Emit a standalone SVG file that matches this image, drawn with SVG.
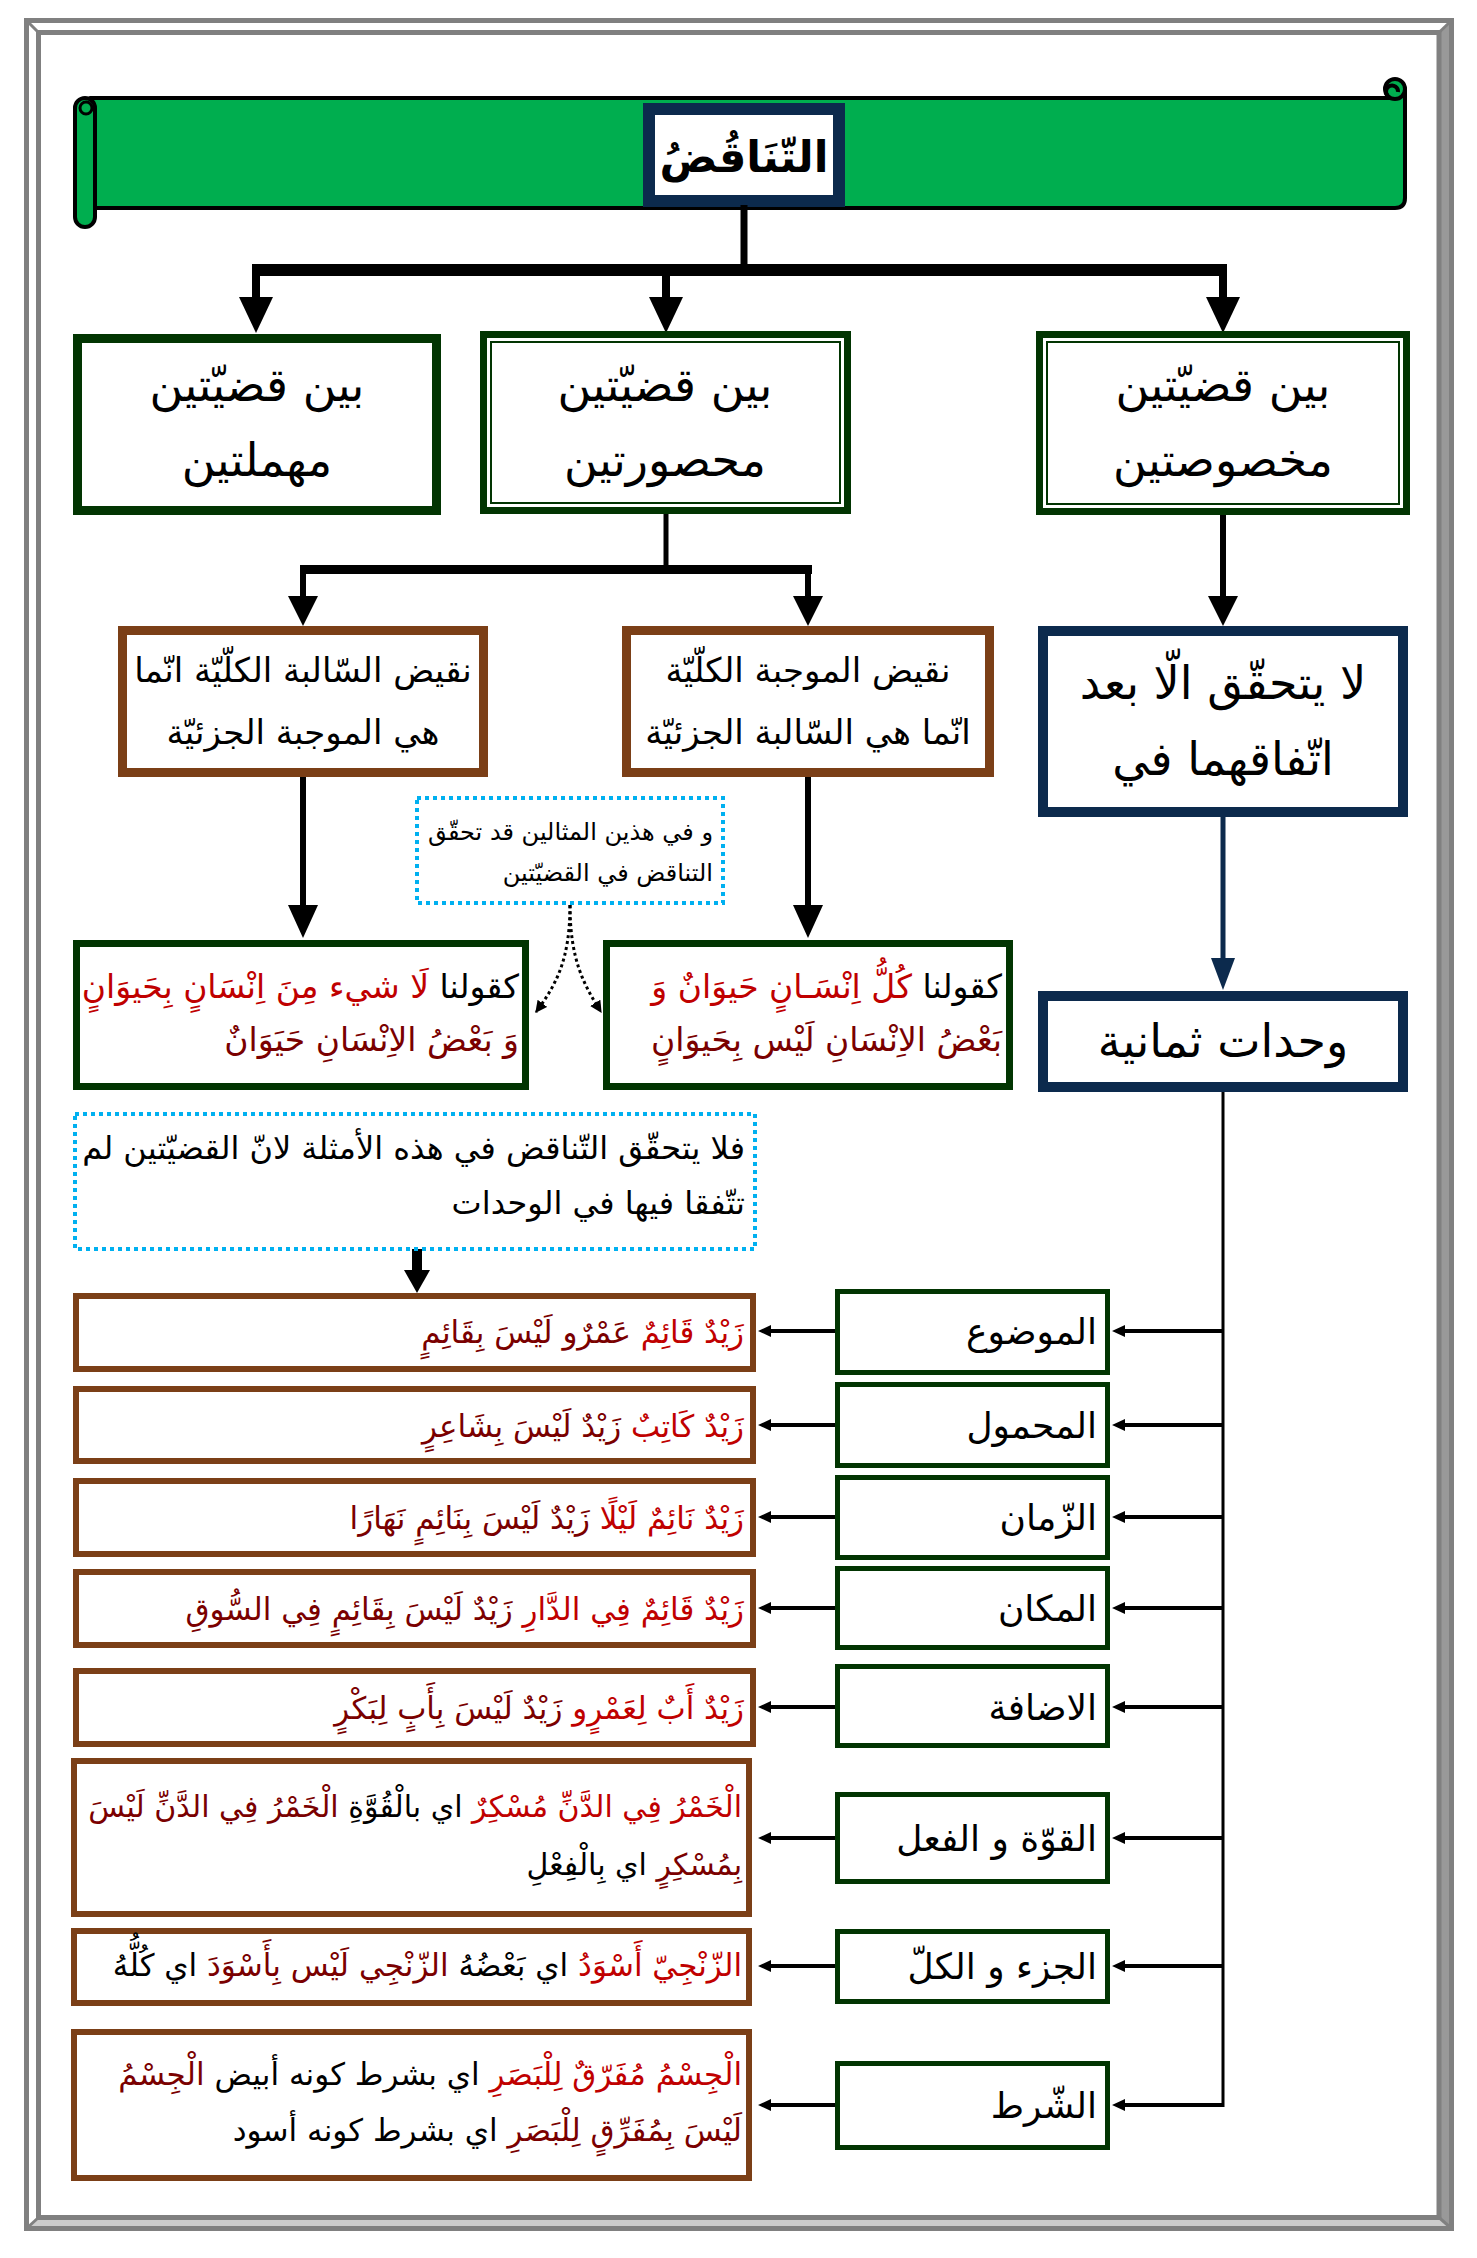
<svg xmlns="http://www.w3.org/2000/svg" width="1477" height="2258" viewBox="0 0 1477 2258">
<style>
text{font-family:"DejaVu Sans","Noto Sans",sans-serif;direction:rtl;}
.c{text-anchor:middle;}
.s{text-anchor:start;}
.t40{font-size:46px;}
.t44{font-size:46px;}
.t32{font-size:34px;}
.t30{font-size:33px;}
.tn{font-size:32px;}
.tr{font-size:31px;}
.tr6{font-size:30px;}
.t23{font-size:24px;}
.lbl{font-size:36px;}
.red{fill:#C00000;}
.mar{fill:#7A0000;}
.blk{fill:#000;}
.bxg{fill:#fff;stroke:#023502;}
.bxb{fill:#fff;stroke:#7B3F17;}
.bxn{fill:#fff;stroke:#0C2A4D;}
.dot{fill:#fff;stroke:#00B0F0;stroke-width:4;stroke-dasharray:4 4;}
.ln{stroke:#000;fill:none;}
.ah{fill:#000;}
</style>
<defs>
<marker id="da" viewBox="0 0 10 10" refX="9" refY="5" markerWidth="12" markerHeight="12" markerUnits="userSpaceOnUse" orient="auto"><path d="M0,0 L10,5 L0,10 Z" fill="#000"/></marker>
</defs>

<g id="frame">
<polygon points="1451.5,20.5 1439,32.5 1439,2217.5 1451.5,2228.5" fill="#999"/>
<polygon points="26.5,2228.5 38.5,2217.5 1439,2217.5 1451.5,2228.5" fill="#ccc"/>
<rect x="26.5" y="20.5" width="1425" height="2208" fill="none" stroke="#808080" stroke-width="5"/>
<rect x="38.5" y="32.5" width="1400.5" height="2185" fill="none" stroke="#808080" stroke-width="5"/>
<g stroke="#808080" stroke-width="3">
<line x1="26.5" y1="20.5" x2="38.5" y2="32.5"/>
<line x1="1451.5" y1="20.5" x2="1439" y2="32.5"/>
<line x1="26.5" y1="2228.5" x2="38.5" y2="2217.5"/>
<line x1="1451.5" y1="2228.5" x2="1439" y2="2217.5"/>
</g>
</g>

<g id="banner">
<path d="M90,98 H1395 V89 H1405 V198 Q1405,208 1395,208 H90 Z" fill="#00AE4F" stroke="#000" stroke-width="4" stroke-linejoin="round"/>
<circle cx="1395" cy="89" r="10" fill="#00AE4F" stroke="#000" stroke-width="4"/>
<path d="M1388,96 A6,6 0 1 1 1398,92" fill="none" stroke="#000" stroke-width="4"/>
<rect x="75" y="98" width="20" height="129" rx="10" fill="#00AE4F" stroke="#000" stroke-width="4"/>
<circle cx="86" cy="108" r="6" fill="none" stroke="#000" stroke-width="3"/>
</g>

<g id="title">
<rect x="649" y="109" width="190" height="92" fill="#fff" stroke="#0C2A4D" stroke-width="12"/>
<text x="744" y="172" class="c" font-size="43" font-weight="bold">التّنَاقُضُ</text>
</g>

<g id="connectors">
<line class="ln" x1="744" y1="205" x2="744" y2="270" stroke-width="7"/>
<line class="ln" x1="252" y1="270" x2="1227" y2="270" stroke-width="12"/>
<path class="ln" d="M256,270 V300 M666,270 V300 M1223,270 V300" stroke-width="8"/>
<polygon class="ah" points="239,297 273,297 256,333"/>
<polygon class="ah" points="649,297 683,297 666,333"/>
<polygon class="ah" points="1206,297 1240,297 1223,333"/>

<line class="ln" x1="666" y1="514" x2="666" y2="570" stroke-width="5"/>
<line class="ln" x1="300" y1="569.5" x2="812" y2="569.5" stroke-width="9"/>
<path class="ln" d="M303,569 V600 M808,569 V600" stroke-width="6"/>
<polygon class="ah" points="288,596 318,596 303,626"/>
<polygon class="ah" points="793,596 823,596 808,626"/>
<path class="ln" d="M1223,515 V600" stroke-width="6"/>
<polygon class="ah" points="1208,596 1238,596 1223,626"/>

<path class="ln" d="M303,777 V908 M808,777 V908" stroke-width="6"/>
<polygon class="ah" points="288,905 318,905 303,938"/>
<polygon class="ah" points="793,905 823,905 808,938"/>
<path d="M1223,817 V962" stroke="#0C2A4D" stroke-width="5" fill="none"/>
<polygon points="1211,958 1235,958 1223,990" fill="#0C2A4D"/>

<path class="ln" d="M570,905 C570,960 556,985 536,1012" stroke-width="3" stroke-dasharray="3 3" marker-end="url(#da)"/>
<path class="ln" d="M570,905 C570,960 584,985 601,1012" stroke-width="3" stroke-dasharray="3 3" marker-end="url(#da)"/>

<path class="ln" d="M417,1249 V1274" stroke-width="10"/>
<polygon class="ah" points="404,1270 430,1270 417,1293"/>

<path class="ln" d="M1223,1092 V2107" stroke-width="3"/>
<g id="branches">
<path class="ln" stroke-width="4" d="M1223,1331 H1122 M835,1331 H768 M1223,1425 H1122 M835,1425 H768 M1223,1517 H1122 M835,1517 H768 M1223,1608 H1122 M835,1608 H768 M1223,1707 H1122 M835,1707 H768 M1223,1838 H1122 M835,1838 H768 M1223,1966 H1122 M835,1966 H768 M1223,2105 H1122 M835,2105 H768"/>
<path class="ah" d="M1112,1331 l13,-6 v12 z M758,1331 l13,-6 v12 z M1112,1425 l13,-6 v12 z M758,1425 l13,-6 v12 z M1112,1517 l13,-6 v12 z M758,1517 l13,-6 v12 z M1112,1608 l13,-6 v12 z M758,1608 l13,-6 v12 z M1112,1707 l13,-6 v12 z M758,1707 l13,-6 v12 z M1112,1838 l13,-6 v12 z M758,1838 l13,-6 v12 z M1112,1966 l13,-6 v12 z M758,1966 l13,-6 v12 z M1112,2105 l13,-6 v12 z M758,2105 l13,-6 v12 z"/>
</g>
</g>

<g id="n-muhmalatain">
<rect class="bxg" x="77.5" y="338.5" width="359" height="172" stroke-width="9"/>
<text x="257" y="401" class="c t40">بين قضيّتين</text>
<text x="257" y="476" class="c t40">مهملتين</text>
</g>
<g id="n-mahsuratain">
<rect class="bxg" x="483.5" y="334.5" width="364" height="176" stroke-width="7"/>
<rect class="bxg" x="491" y="342" width="349" height="161" stroke-width="2"/>
<text x="665" y="401" class="c t40">بين قضيّتين</text>
<text x="665" y="476" class="c t40">محصورتين</text>
</g>
<g id="n-makhsusatain">
<rect class="bxg" x="1039.5" y="334.5" width="367" height="177" stroke-width="7"/>
<rect class="bxg" x="1047" y="342" width="352" height="162" stroke-width="2"/>
<text x="1223" y="401" class="c t40">بين قضيّتين</text>
<text x="1223" y="476" class="c t40">مخصوصتين</text>
</g>

<g id="n-naqid-salibah">
<rect class="bxb" x="122.5" y="630.5" width="361" height="142" stroke-width="9"/>
<text x="303" y="682" class="c t32">نقيض السّالبة الكلّيّة انّما</text>
<text x="303" y="744" class="c t32">هي الموجبة الجزئيّة</text>
</g>
<g id="n-naqid-mujibah">
<rect class="bxb" x="626.5" y="630.5" width="363" height="142" stroke-width="9"/>
<text x="808" y="682" class="c t32">نقيض الموجبة الكلّيّة</text>
<text x="808" y="744" class="c t32">انّما هي السّالبة الجزئيّة</text>
</g>
<g id="n-la-yatahaqqaq">
<rect class="bxn" x="1043" y="631" width="360" height="181" stroke-width="10"/>
<text x="1223" y="699" class="c t44">لا يتحقّق الّا بعد</text>
<text x="1223" y="775" class="c t44">اتّفاقهما في</text>
</g>

<g id="n-note1">
<rect class="dot" x="417" y="798" width="306" height="105"/>
<text x="713" y="840" class="s t23">و في هذين المثالين قد تحقّق</text>
<text x="713" y="881" class="s t23">التناقض في القضيّتين</text>
</g>

<g id="n-example-salibah">
<rect class="bxg" x="76.5" y="943.5" width="449" height="143" stroke-width="7"/>
<text x="519" y="998" class="s t30"><tspan class="blk">كقولنا </tspan><tspan class="red">لَا شيء مِنَ اِنْسَانٍ بِحَيوَانٍ</tspan></text>
<text x="519" y="1051" class="s t30 mar">وَ بَعْضُ الاِنْسَانِ حَيَوَانٌ</text>
</g>
<g id="n-example-mujibah">
<rect class="bxg" x="606.5" y="943.5" width="403" height="143" stroke-width="7"/>
<text x="1002" y="998" class="s t30"><tspan class="blk">كقولنا </tspan><tspan class="red">كُلُّ اِنْسَـانٍ حَيوَانٌ وَ</tspan></text>
<text x="1002" y="1051" class="s t30 mar">بَعْضُ  الاِنْسَانِ لَيْس بِحَيوَانٍ</text>
</g>

<g id="n-wahadat">
<rect class="bxn" x="1043" y="996" width="360" height="91" stroke-width="10"/>
<text x="1223" y="1057" class="c t44">وحدات ثمانية</text>
</g>

<g id="n-note2">
<rect class="dot" x="75" y="1114" width="680" height="135"/>
<text x="745" y="1159" class="s tn">فلا يتحقّق التّناقض في هذه الأمثلة لانّ القضيّتين لم</text>
<text x="745" y="1214" class="s tn">تتّفقا فيها في الوحدات</text>
</g>

<g id="row1">
<rect class="bxg" x="837.5" y="1291.5" width="270" height="81" stroke-width="5"/>
<text x="1097" y="1344" class="s lbl">الموضوع</text>
<rect class="bxb" x="76" y="1296" width="677" height="73" stroke-width="6"/>
<text x="744" y="1343" class="s tr"><tspan class="red">زَيْدٌ قَائِمٌ </tspan><tspan class="mar">عَمْرٌو لَيْسَ بِقَائِمٍ</tspan></text>
</g>
<g id="row2">
<rect class="bxg" x="837.5" y="1384.5" width="270" height="81" stroke-width="5"/>
<text x="1097" y="1438" class="s lbl">المحمول</text>
<rect class="bxb" x="76" y="1389" width="677" height="72" stroke-width="6"/>
<text x="744" y="1437" class="s tr"><tspan class="red">زَيْدٌ كَاتِبٌ </tspan><tspan class="mar">زَيْدٌ لَيْسَ بِشَاعِرٍ</tspan></text>
</g>
<g id="row3">
<rect class="bxg" x="837.5" y="1477.5" width="270" height="80" stroke-width="5"/>
<text x="1097" y="1530" class="s lbl">الزّمان</text>
<rect class="bxb" x="76" y="1481" width="677" height="73" stroke-width="6"/>
<text x="744" y="1529" class="s tr"><tspan class="red">زَيْدٌ نَائِمٌ لَيْلًا </tspan><tspan class="mar">زَيْدٌ لَيْسَ بِنَائِمٍ نَهَارًا</tspan></text>
</g>
<g id="row4">
<rect class="bxg" x="837.5" y="1568.5" width="270" height="79" stroke-width="5"/>
<text x="1097" y="1621" class="s lbl">المكان</text>
<rect class="bxb" x="76" y="1572" width="677" height="73" stroke-width="6"/>
<text x="744" y="1620" class="s tr"><tspan class="red">زَيْدٌ قَائِمٌ فِي الدَّارِ </tspan><tspan class="mar">زَيْدٌ لَيْسَ بِقَائِمٍ فِي السُّوقِ</tspan></text>
</g>
<g id="row5">
<rect class="bxg" x="837.5" y="1666.5" width="270" height="79" stroke-width="5"/>
<text x="1097" y="1720" class="s lbl">الاضافة</text>
<rect class="bxb" x="76" y="1671" width="677" height="73" stroke-width="6"/>
<text x="744" y="1719" class="s tr"><tspan class="red">زَيْدٌ أَبٌ لِعَمْرٍو </tspan><tspan class="mar">زَيْدٌ لَيْسَ بِأَبٍ لِبَكْرٍ</tspan></text>
</g>
<g id="row6">
<rect class="bxg" x="837.5" y="1794.5" width="270" height="87" stroke-width="5"/>
<text x="1097" y="1851" class="s lbl">القوّة و الفعل</text>
<rect class="bxb" x="74" y="1761" width="675" height="153" stroke-width="6"/>
<text x="742" y="1817" class="s tr6"><tspan class="red">الْخَمْرُ فِي الدَّنِّ مُسْكِرٌ</tspan><tspan class="blk"> اي بالْقُوَّةِ </tspan><tspan class="mar">الْخَمْرُ فِي الدَّنِّ لَيْسَ</tspan></text>
<text x="742" y="1875" class="s tr6"><tspan class="mar">بِمُسْكِرٍ</tspan><tspan class="blk"> اي بِالْفِعْلِ</tspan></text>
</g>
<g id="row7">
<rect class="bxg" x="837.5" y="1931.5" width="270" height="70" stroke-width="5"/>
<text x="1097" y="1979" class="s lbl">الجزء و الكلّ</text>
<rect class="bxb" x="74" y="1931" width="675" height="72" stroke-width="6"/>
<text x="742" y="1976" class="s tr"><tspan class="red">الزّنْجِيّ أَسْوَدُ</tspan><tspan class="blk"> اي بَعْضُهُ </tspan><tspan class="mar">الزّنْجِي لَيْس بِأَسْوَدَ</tspan><tspan class="blk"> اي كُلُّهُ</tspan></text>
</g>
<g id="row8">
<rect class="bxg" x="837.5" y="2063.5" width="270" height="84" stroke-width="5"/>
<text x="1097" y="2118" class="s lbl">الشّرط</text>
<rect class="bxb" x="74" y="2032" width="675" height="146" stroke-width="6"/>
<text x="742" y="2085" class="s tr"><tspan class="red">الْجِسْمُ مُفَرّقٌ لِلْبَصَرِ</tspan><tspan class="blk"> اي بشرط كونه أبيض </tspan><tspan class="mar">الْجِسْمُ</tspan></text>
<text x="742" y="2141" class="s tr"><tspan class="mar">لَيْسَ بِمُفَرِّقٍ لِلْبَصَرِ</tspan><tspan class="blk"> اي بشرط كونه أسود</tspan></text>
</g>
</svg>
